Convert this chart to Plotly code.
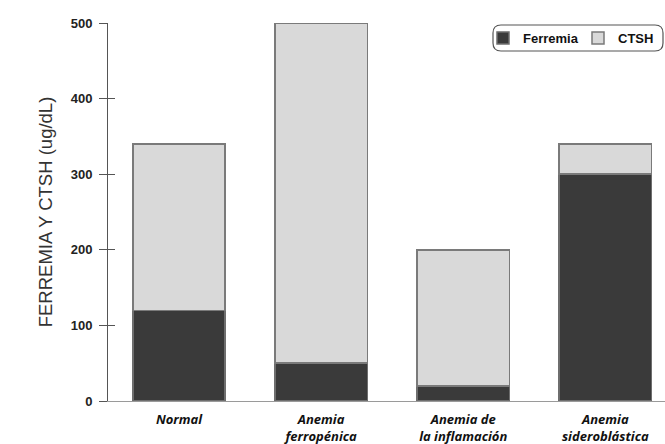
import plotly.graph_objects as go

categories = ["<i>Normal</i>", "<i>Anemia</i><br><i>ferropénica</i>",
              "<i>Anemia de</i><br><i>la inflamación</i>", "<i>Anemia</i><br><i>sideroblástica</i>"]
ferremia = [120, 50, 20, 300]
ctsh_total = [340, 500, 200, 340]
ctsh_extra = [t - f for t, f in zip(ctsh_total, ferremia)]
y_ticks = [0, 100, 200, 300, 400, 500]

W, H = 665, 444
L, R, T, B = 108, 0, 23, 43

fig = go.Figure()
fig.add_trace(go.Bar(
    x=categories, y=ferremia, name="<b>Ferremia</b>",
    marker=dict(color="#3a3a3a", line=dict(color="#6e6e6e", width=1.5)),
    width=0.65,
))
fig.add_trace(go.Bar(
    x=categories, y=ctsh_extra, name="<b>CTSH</b>",
    marker=dict(color="#d9d9d9", line=dict(color="#7a7a7a", width=1.5)),
    width=0.65,
))
# empty helper trace so the overlaid axis (inner tick marks) is drawn
fig.add_trace(go.Scatter(x=[None], y=[None], yaxis="y2", showlegend=False,
                         hoverinfo="skip", mode="markers"))

pw = W - L - R
ph = H - T - B
def px(x):
    return (x - L) / pw
def py(y):
    return (H - B - y) / ph

# rounded legend frame
x0, x1, y0, y1 = px(493), px(663), py(51), py(25)
rx = 8 / pw
ry = 8 / ph
path = (f"M {x0+rx},{y1} L {x1-rx},{y1} Q {x1},{y1} {x1},{y1-ry} "
        f"L {x1},{y0+ry} Q {x1},{y0} {x1-rx},{y0} L {x0+rx},{y0} "
        f"Q {x0},{y0} {x0},{y0+ry} L {x0},{y1-ry} Q {x0},{y1} {x0+rx},{y1} Z")
fig.add_shape(type="path", path=path, xref="paper", yref="paper",
              line=dict(color="#555555", width=1.2), fillcolor="white", layer="below")

fig.update_layout(
    width=W, height=H,
    margin=dict(l=L, r=R, t=T, b=B, autoexpand=False),
    barmode="stack",
    plot_bgcolor="white", paper_bgcolor="white",
    font=dict(family="Liberation Sans, Arial", color="#222222"),
    showlegend=True,
    legend=dict(
        orientation="h", x=px(483), y=py(38), xanchor="left", yanchor="middle",
        bgcolor="rgba(0,0,0,0)", borderwidth=0,
        font=dict(size=13, family="Liberation Sans, Arial", color="#111111"),
        itemwidth=30, traceorder="normal", entrywidth=50,
    ),
    xaxis=dict(
        range=[-0.5, 3.42], showline=True, linecolor="#9a9a9a", linewidth=1,
        ticks="", showgrid=False, zeroline=False, ticklabelstandoff=6,
        tickfont=dict(size=13, family="Open Sans, Liberation Sans", color="#111111", weight="bold"),
    ),
    yaxis=dict(
        range=[0, 500], tickvals=y_ticks, showline=True, linecolor="#555555", linewidth=1,
        ticks="outside", ticklen=8, tickcolor="#555555", showgrid=False, zeroline=False,
        ticklabelstandoff=4,
        tickfont=dict(size=13, family="Liberation Sans, Arial", color="#222222", weight="bold"),
        title=dict(text="FERREMIA Y CTSH (ug/dL)", standoff=13,
                   font=dict(size=18.5, family="Liberation Sans, Arial", color="#333333")),
    ),
    yaxis2=dict(
        overlaying="y", side="left", range=[0, 500], tickvals=y_ticks,
        ticks="inside", ticklen=7, tickcolor="#555555", showticklabels=False,
        showgrid=False, showline=False, zeroline=False,
    ),
)

fig.write_html("out.html", config={"displayModeBar": False},
               post_script="document.body.style.margin='0';")
